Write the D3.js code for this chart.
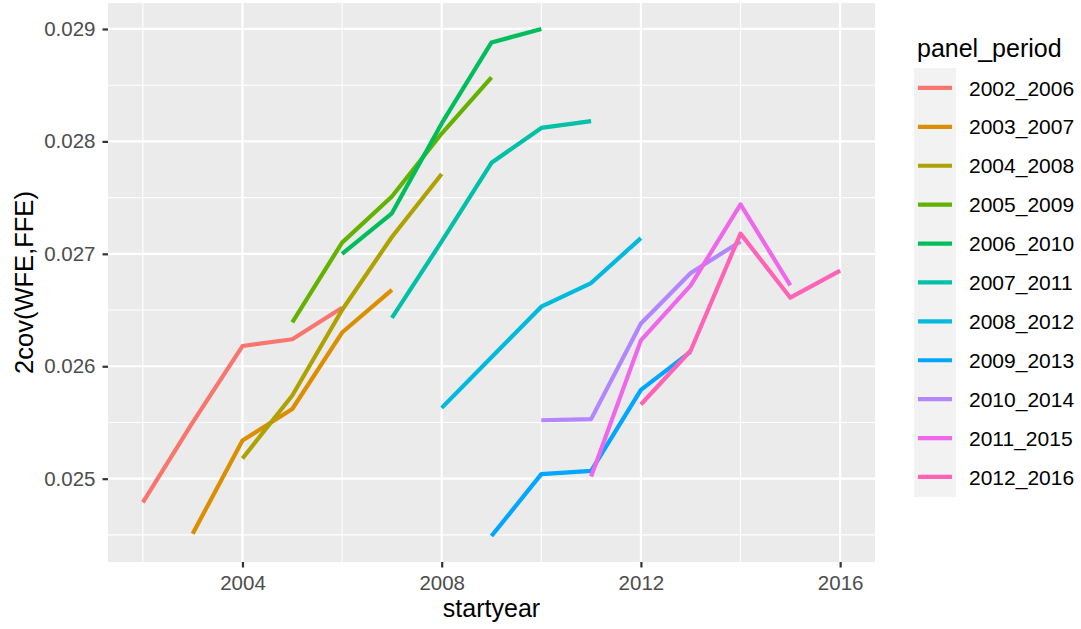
<!DOCTYPE html>
<html><head><meta charset="utf-8">
<script src="https://cdn.jsdelivr.net/npm/d3@7"></script>
<style>body{margin:0;background:#fff;} text{font-family:"Liberation Sans",Arial,sans-serif;}</style>
</head><body>
<svg id="chart" width="1081" height="629"></svg>
<script>
const periods = ["2002_2006","2003_2007","2004_2008","2005_2009","2006_2010","2007_2011","2008_2012","2009_2013","2010_2014","2011_2015","2012_2016"];
const colors = ["#F8766D","#DB8E00","#AEA200","#64B200","#00BD5C","#00C1A7","#00BADE","#00A6FF","#B385FF","#EF67EB","#FF63B6"];
const startYears = [2002,2003,2004,2005,2006,2007,2008,2009,2010,2011,2012];
const v2002_2006 = [0.02479,0.02550,0.02618,0.02624,0.02652];
const v2003_2007 = [0.02451,0.02534,0.02562,0.02630,0.02668];
const v2004_2008 = [0.02518,0.02574,0.02650,0.02715,0.02771];
const v2005_2009 = [0.02639,0.02710,0.02751,0.02807,0.02857];
const v2006_2010 = [0.02700,0.02736,0.02816,0.02888,0.02900];
const v2007_2011 = [0.02643,0.02711,0.02781,0.02812,0.02818];
const v2008_2012 = [0.02563,0.02608,0.02653,0.02674,0.02714];
const v2009_2013 = [0.02449,0.02504,0.02507,0.02579,0.02613];
const v2010_2014 = [0.02552,0.02553,0.02638,0.02683,0.02711];
const v2011_2015 = [0.02502,0.02623,0.02672,0.02744,0.02672];
const v2012_2016 = [0.02566,0.02614,0.02718,0.02661,0.02685];
const seriesValues = [v2002_2006,v2003_2007,v2004_2008,v2005_2009,v2006_2010,v2007_2011,v2008_2012,v2009_2013,v2010_2014,v2011_2015,v2012_2016];
const xTicks = [2004,2008,2012,2016];
const xMinor = [2002,2006,2010,2014];
const yTicks = [0.025,0.026,0.027,0.028,0.029];
const yMinor = [0.0245,0.0255,0.0265,0.0275,0.0285];

const svg = d3.select("#chart");
const L = 108, R = 875, T = 3, B = 562;
const x = d3.scaleLinear().domain([2002 - 0.7, 2016 + 0.7]).range([L, R]);
const y = d3.scaleLinear().domain([0.024259, 0.029231]).range([B, T]);

svg.append("rect").attr("x", L).attr("y", T).attr("width", R - L).attr("height", B - T).attr("fill", "#EBEBEB");
const g = svg.append("g");
xMinor.forEach(v => g.append("line").attr("x1", x(v)).attr("x2", x(v)).attr("y1", T).attr("y2", B).attr("stroke", "#fff").attr("stroke-width", 1.1));
yMinor.forEach(v => g.append("line").attr("y1", y(v)).attr("y2", y(v)).attr("x1", L).attr("x2", R).attr("stroke", "#fff").attr("stroke-width", 1.1));
xTicks.forEach(v => g.append("line").attr("x1", x(v)).attr("x2", x(v)).attr("y1", T).attr("y2", B).attr("stroke", "#fff").attr("stroke-width", 2.2));
yTicks.forEach(v => g.append("line").attr("y1", y(v)).attr("y2", y(v)).attr("x1", L).attr("x2", R).attr("stroke", "#fff").attr("stroke-width", 2.2));

const xAxis = svg.append("g").attr("transform", `translate(0,${B})`)
  .call(d3.axisBottom(x).tickValues(xTicks).tickSize(5.5).tickPadding(8).tickFormat(d3.format("d")));
const yAxis = svg.append("g").attr("transform", `translate(${L},0)`)
  .call(d3.axisLeft(y).tickValues(yTicks).tickSize(5.5).tickPadding(7).tickFormat(d3.format(".3f")));
[xAxis, yAxis].forEach(a => {
  a.attr("font-size", null).attr("font-family", null);
  a.select(".domain").remove();
  a.selectAll(".tick line").attr("stroke", "#333").attr("stroke-width", 2.2);
  a.selectAll(".tick text").attr("fill", "#4D4D4D").style("font-size", "20.5px");
});

const line = d3.line().x(d => x(d[0])).y(d => y(d[1]));
seriesValues.forEach((vals, i) => {
  const pts = vals.map((v, j) => [startYears[i] + j, v]);
  svg.append("path").datum(pts).attr("d", line).attr("fill", "none")
    .attr("stroke", colors[i]).attr("stroke-width", 4.2).attr("stroke-linejoin", "round").attr("stroke-linecap", "butt");
});

svg.append("text").attr("x", (L + R) / 2).attr("y", 617).attr("text-anchor", "middle")
  .style("font-size", "25px").attr("fill", "#000").text("startyear");
svg.append("text").attr("transform", `translate(32.5,${(T + B) / 2}) rotate(-90)`).attr("text-anchor", "middle")
  .style("font-size", "25.5px").attr("fill", "#000").text("2cov(WFE,FFE)");

// legend
const lg = svg.append("g");
lg.append("text").attr("x", 917).attr("y", 56.5).style("font-size", "25px").attr("fill", "#000").text("panel_period");
const ky0 = 68, kh = 38.9;
lg.append("rect").attr("x", 914).attr("y", ky0).attr("width", 42).attr("height", kh * periods.length + 1).attr("fill", "#F2F2F2");
periods.forEach((p, i) => {
  const cy = ky0 + kh * i + kh / 2 + 0.5;
  lg.append("line").attr("x1", 918).attr("x2", 952).attr("y1", cy).attr("y2", cy).attr("stroke", colors[i]).attr("stroke-width", 4.2);
  lg.append("text").attr("x", 969).attr("y", cy).attr("dy", "0.36em").style("font-size", "21px").attr("fill", "#000").text(p);
});
</script>
</body></html>
